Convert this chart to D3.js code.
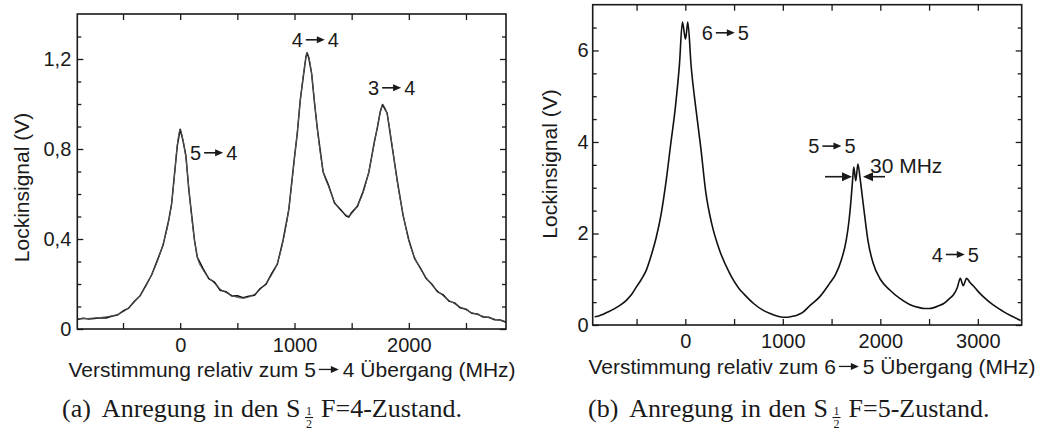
<!DOCTYPE html>
<html>
<head>
<meta charset="utf-8">
<title>Lockinsignal</title>
<script src="https://cdn.jsdelivr.net/npm/d3@7"></script>
<style>
body { margin: 0; background: #fff; }
text { font-family: "Liberation Sans", Arial, sans-serif; fill: #1a1a1a; }
.cap { font-family: "Liberation Serif", "Times New Roman", serif; }
</style>
</head>
<body>
<svg id="fig" width="1053" height="432"></svg>
<script>

// (a) Anregung in den S1/2 F=4: detuning (MHz), measured lock-in signal and fit (V)
var detA = [-900,-850,-800,-750,-700,-650,-600,-550,-500,-450,
            -400,-350,-300,-250,-200,-150,-100,-75,-50,-25,
            0,25,50,75,100,125,150,200,250,300,
            350,400,450,500,550,600,650,700,750,800,
            850,900,950,1000,1025,1050,1075,1100,1110,1125,
            1150,1175,1200,1250,1300,1350,1400,1450,1475,1500,
            1550,1600,1650,1700,1725,1750,1770,1790,1810,1850,
            1900,1950,2000,2050,2100,2150,2200,2250,2300,2350,
            2400,2450,2500,2550,2600,2650,2700,2750,2800,2850];
var sigA = [.042,.048,.044,.047,.050,.049,.057,.062,.080,.093,
            .123,.148,.194,.240,.305,.372,.485,.556,.688,.815,
            .888,.836,.770,.622,.508,.395,.318,.268,.224,.208,
            .172,.166,.147,.148,.139,.146,.150,.180,.198,.246,
            .288,.395,.530,.765,.872,1.016,1.114,1.210,1.228,1.204,
            1.135,1.004,.890,.698,.636,.560,.532,.503,.497,.518,
            .545,.611,.696,.836,.895,.966,.998,.978,.960,.824,
            .656,.504,.396,.314,.272,.226,.200,.166,.152,.124,
            .116,.094,.088,.070,.067,.053,.052,.041,.040,.030];
var fitA = [.045,.046,.047,.049,.051,.054,.058,.064,.076,.095,
            .120,.150,.190,.243,.300,.378,.480,.560,.680,.820,
            .885,.840,.760,.630,.500,.395,.320,.262,.228,.203,
            .178,.162,.150,.140,.137,.142,.155,.175,.203,.240,
            .293,.390,.535,.760,.880,1.010,1.120,1.205,1.225,1.210,
            1.130,1.010,.885,.705,.630,.566,.528,.508,.502,.512,
            .550,.605,.700,.830,.900,.960,.995,.985,.955,.830,
            .650,.510,.390,.320,.268,.230,.196,.171,.147,.128,
            .112,.098,.085,.073,.064,.057,.050,.044,.038,.033];

// (b) Anregung in den S1/2 F=5: detuning (MHz), lock-in signal (V)
var detB = [-930,-900,-850,-800,-750,-700,-650,-600,-550,-500,
            -450,-400,-350,-300,-250,-200,-150,-100,-60,-30,
            -15,0,10,25,60,110,160,210,270,350,
            450,550,600,700,800,870,950,1000,1050,1100,
            1150,1200,1280,1380,1480,1540,1600,1650,1680,1700,
            1715,1728,1748,1770,1790,1810,1840,1875,1925,2000,
            2100,2200,2300,2400,2450,2500,2550,2600,2650,2700,
            2750,2790,2820,2850,2885,2920,2960,3000,3050,3150,
            3250,3350,3440];
var sigB = [.180,.190,.230,.280,.330,.390,.460,.550,.670,.840,
            1.00,1.20,1.52,1.90,2.40,3.10,3.95,4.80,5.70,6.62,
            6.45,6.25,6.35,6.62,5.65,4.70,3.85,2.90,2.22,1.64,
            1.15,.80,.68,.47,.32,.25,.19,.17,.17,.19,
            .22,.27,.43,.62,.91,1.10,1.42,1.85,2.30,2.75,
            3.15,3.45,3.15,3.52,3.25,2.90,2.38,1.82,1.36,1.00,
            .76,.58,.45,.38,.36,.36,.38,.42,.47,.56,
            .66,.82,1.02,.86,1.02,.93,.84,.74,.63,.45,
            .31,.19,.10];

// ticks and labels
var xTicksA = [-500,0,500,1000,1500,2000,2500];
var xLabelsA = [0,1000,2000];
var yTicksA = [0.1,0.2,0.3,0.4,0.5,0.6,0.7,0.8,0.9,1.0,1.1,1.2,1.3];
var yLabelsA = [0,0.4,0.8,1.2];
var xTicksB = [-500,0,500,1000,1500,2000,2500,3000];
var xLabelsB = [0,1000,2000,3000];
var yTicksB = [0.5,1,1.5,2,2.5,3,3.5,4,4.5,5,5.5,6,6.5];
var yLabelsB = [0,2,4,6];

var svg = d3.select("#fig");
var ink = "#1a1a1a";

function isIn(arr, v) {
	return arr.some(function(a) { return Math.abs(a - v) < 1e-9; });
}

function commaFmt(d) {
	return d === 0 ? "0" : d3.format(".1f")(d).replace(".", ",");
}

function panel(p) {
	var g = svg.append("g");
	var x = d3.scaleLinear().domain(p.xDomain).range([p.x0, p.x1]);
	var y = d3.scaleLinear().domain(p.yDomain).range([p.y1, p.y0]);
	var yMinor = p.yTicks.filter(function(v) { return !isIn(p.yLabels, v); });

	g.append("g").attr("transform", "translate(0," + p.y1 + ")")
		.call(d3.axisBottom(x).tickValues(p.xTicks).tickSize(-6).tickPadding(9)
			.tickFormat(function(d) { return isIn(p.xLabels, d) ? d : ""; }));
	g.append("g").attr("transform", "translate(0," + p.y0 + ")")
		.call(d3.axisTop(x).tickValues(p.xTicks).tickSize(-6).tickFormat(""));
	g.append("g").attr("transform", "translate(" + p.x0 + ",0)")
		.call(d3.axisLeft(y).tickValues(yMinor).tickSize(-4).tickFormat(""));
	g.append("g").attr("transform", "translate(" + p.x0 + ",0)")
		.call(d3.axisLeft(y).tickValues(p.yLabels).tickSize(-6).tickPadding(p.yPad).tickFormat(p.yFormat));
	g.append("g").attr("transform", "translate(" + p.x1 + ",0)")
		.call(d3.axisRight(y).tickValues(yMinor).tickSize(-4).tickFormat(""));
	g.append("g").attr("transform", "translate(" + p.x1 + ",0)")
		.call(d3.axisRight(y).tickValues(p.yLabels).tickSize(-6).tickFormat(""));

	g.selectAll(".domain").remove();
	g.selectAll(".tick line").attr("stroke", ink).attr("stroke-width", 1.3);
	g.selectAll(".tick text").style("font-size", "20px").style("font-family", "'Liberation Sans', Arial, sans-serif").attr("fill", ink);

	var line = d3.line()
		.x(function(d) { return x(d[0]); })
		.y(function(d) { return y(d[1]); });

	p.series.forEach(function(s) {
		g.append("path")
			.datum(d3.zip(s.x, s.y))
			.attr("fill", "none")
			.attr("stroke", s.color)
			.attr("stroke-width", s.width)
			.attr("stroke-linejoin", "round")
			.attr("d", line.curve(s.curve));
	});

	g.append("rect")
		.attr("x", p.x0).attr("y", p.y0)
		.attr("width", p.x1 - p.x0).attr("height", p.y1 - p.y0)
		.attr("fill", "none").attr("stroke", ink).attr("stroke-width", 1.6);

	// y title
	g.append("text")
		.attr("transform", "translate(" + p.yTitleX + "," + p.yTitleY + ") rotate(-90)")
		.attr("text-anchor", "middle")
		.style("font-size", "21px")
		.text("Lockinsignal (V)");

	// x title with transition arrow
	xTitle(g, p.xTitleCx, p.xTitleY, p.xTitleA, p.xTitleB);

	return g;
}

function arrow(g, x, y, len, headLen, headH, sw) {
	g.append("line")
		.attr("x1", x).attr("x2", x + len - headLen + 1)
		.attr("y1", y).attr("y2", y)
		.attr("stroke", ink).attr("stroke-width", sw);
	g.append("path")
		.attr("d", "M" + (x + len - headLen) + "," + (y - headH / 2) +
			"L" + (x + len) + "," + y +
			"L" + (x + len - headLen) + "," + (y + headH / 2) + "Z")
		.attr("fill", ink);
}

function arrowLeft(g, x, y, len, headLen, headH, sw) {
	g.append("line")
		.attr("x1", x).attr("x2", x - len + headLen - 1)
		.attr("y1", y).attr("y2", y)
		.attr("stroke", ink).attr("stroke-width", sw);
	g.append("path")
		.attr("d", "M" + (x - len + headLen) + "," + (y - headH / 2) +
			"L" + (x - len) + "," + y +
			"L" + (x - len + headLen) + "," + (y + headH / 2) + "Z")
		.attr("fill", ink);
}

function transLabel(g, x, y, a, b) {
	var size = 20;
	var t1 = g.append("text").attr("x", x).attr("y", y).style("font-size", size + "px").text(a);
	var w1 = t1.node().getComputedTextLength();
	var ax = x + w1 + 3;
	arrow(g, ax, y - 0.36 * size, 19, 8, 7, 1.6);
	g.append("text").attr("x", ax + 19 + 3).attr("y", y).style("font-size", size + "px").text(b);
}

function xTitle(g, cx, y, partA, partB) {
	var size = 21;
	var tg = g.append("g");
	var t1 = tg.append("text").attr("x", 0).attr("y", y).style("font-size", size + "px").text(partA);
	var w1 = t1.node().getComputedTextLength();
	var ax = w1 + 3;
	arrow(tg, ax, y - 0.36 * size, 20, 8, 7, 1.3);
	var t2 = tg.append("text").attr("x", ax + 24).attr("y", y).style("font-size", size + "px").text(partB);
	var total = ax + 24 + t2.node().getComputedTextLength();
	tg.attr("transform", "translate(" + (cx - total / 2) + ",0)");
}

function caption(x0, y, label, num) {
	var size = 26;
	var serif = "'Liberation Serif', serif";
	var cg = svg.append("g").attr("transform", "translate(" + x0 + ",0)");
	var t1 = cg.append("text").attr("class", "cap").attr("x", 0).attr("y", y)
		.style("font-size", size + "px").style("font-family", serif)
		.style("word-spacing", "1px");
	t1.append("tspan").text(label);
	t1.append("tspan").attr("dx", 11).text("Anregung in den S");
	var w1 = t1.node().getComputedTextLength() + 11 + 3;
	var fx = w1 + 1.5;
	cg.append("text").attr("x", fx + 4).attr("y", y - 2.5).attr("text-anchor", "middle")
		.style("font-size", "12px").style("font-family", serif).text("1");
	cg.append("line").attr("x1", fx).attr("x2", fx + 8).attr("y1", y + 0.5).attr("y2", y + 0.5)
		.attr("stroke", ink).attr("stroke-width", 1.1);
	cg.append("text").attr("x", fx + 4).attr("y", y + 11).attr("text-anchor", "middle")
		.style("font-size", "12px").style("font-family", serif).text("2");
	cg.append("text").attr("x", fx + 16).attr("y", y)
		.style("font-size", size + "px").style("font-family", serif)
		.text("F=" + num + "-Zustand.");
}

var gA = panel({
	x0: 77.3, x1: 506, y0: 14, y1: 329,
	xDomain: [-900, 2850], yDomain: [0, 1.4],
	xTicks: xTicksA, xLabels: xLabelsA, yTicks: yTicksA, yLabels: yLabelsA,
	yFormat: commaFmt, yPad: 6,
	yTitleX: 28.5, yTitleY: 187.5,
	xTitleCx: 292, xTitleY: 377,
	xTitleA: "Verstimmung relativ zum 5", xTitleB: "4 Übergang (MHz)",
	series: [
		{ x: detA, y: sigA, color: "#111", width: 1.5, curve: d3.curveLinear },
		{ x: detA, y: fitA, color: "#555", width: 1, curve: d3.curveMonotoneX }
	]
});

var gB = panel({
	x0: 592.7, x1: 1021.7, y0: 4.7, y1: 325,
	xDomain: [-950, 3450], yDomain: [0, 7],
	xTicks: xTicksB, xLabels: xLabelsB, yTicks: yTicksB, yLabels: yLabelsB,
	yFormat: function(d) { return d; }, yPad: 4,
	yTitleX: 556.5, yTitleY: 164,
	xTitleCx: 812, xTitleY: 374,
	xTitleA: "Verstimmung relativ zum 6", xTitleB: "5 Übergang (MHz)",
	series: [
		{ x: detB, y: sigB, color: "#111", width: 1.6, curve: d3.curveMonotoneX }
	]
});

// peak labels
transLabel(gA, 190, 160, "5", "4");
transLabel(gA, 291.7, 47, "4", "4");
transLabel(gA, 368, 95, "3", "4");
transLabel(gB, 701.7, 40, "6", "5");
transLabel(gB, 808.3, 153.3, "5", "5");
transLabel(gB, 931.7, 261.7, "4", "5");

// 30 MHz splitting marker
arrow(gB, 825, 176.7, 27, 10, 9, 1.6);
arrowLeft(gB, 885, 176.7, 22, 10, 9, 1.6);
gB.append("text").attr("x", 870).attr("y", 173.3).style("font-size", "21px").text("30 MHz");

caption(62, 417, "(a)", "4");
caption(588, 417, "(b)", "5");
</script>
</body>
</html>
